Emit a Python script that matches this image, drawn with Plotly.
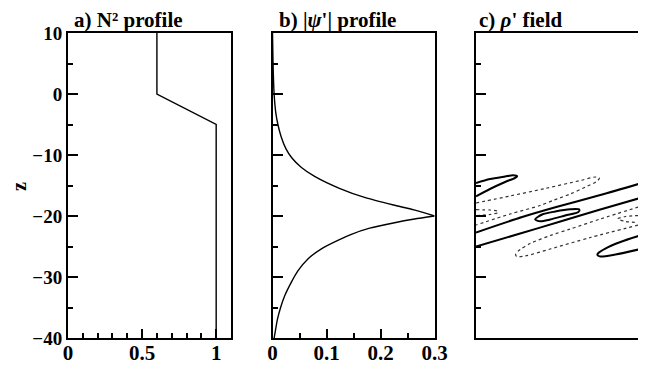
import plotly.graph_objects as go

# ---------------- data ----------------
# a) N^2 profile
n2_z = [10, 0, -5, -40]
n2_val = [0.6, 0.6, 1.0, 1.0]

# b) |psi'| profile (upper and lower branch, meeting at the peak)
psi_up_z = [10, 5, 0, -3, -5, -7, -9, -10.5, -12, -13.5, -15.5, -17, -18.2, -19, -20]
psi_up_v = [0.000, 0.001, 0.003, 0.006, 0.010, 0.016, 0.025, 0.036, 0.053, 0.078, 0.125, 0.172, 0.224, 0.262, 0.300]
psi_lo_z = [-20, -20.5, -21.1, -22, -23, -24, -25.3, -27, -29, -31, -33, -35, -37, -39, -40]
psi_lo_v = [0.300, 0.263, 0.226, 0.180, 0.146, 0.121, 0.092, 0.066, 0.047, 0.034, 0.023, 0.015, 0.009, 0.005, 0.003]

# c) rho' field contours (x normalised 0..1 across the panel, z)
pos1_x = [0, 0.086, 0.179, 0.228, 0.253, 0.241, 0.179, 0.086, 0]
pos1_z = [-14.6, -13.93, -13.52, -13.33, -13.48, -13.74, -14.43, -15.57, -16.77]
neg1_x = [0, 0.210, 0.426, 0.642, 0.735, 0.759, 0.747, 0.673, 0.580, 0.481, 0.395, 0.210, 0]
neg1_z = [-17.87, -16.72, -15.49, -14.18, -13.61, -13.74, -14.26, -15.25, -16.39, -17.38, -18.28, -19.67, -21.48]
neg2_x = [0, 0.086, 0.130, 0.136, 0.086, 0]
neg2_z = [-18.97, -19.02, -19.18, -19.43, -19.75, -19.92]
pos2_x = [0, 0.284, 0.494, 0.765, 1]
pos2_z = [-22.70, -20.16, -18.52, -16.56, -14.75]
pos3_x = [0.364, 0.407, 0.488, 0.580, 0.636, 0.630, 0.549, 0.457, 0.395, 0.364]
pos3_z = [-20.57, -19.75, -19.26, -18.90, -18.93, -19.34, -19.92, -20.57, -20.87, -20.57]
pos4_x = [0, 0.272, 0.519, 0.765, 1]
pos4_z = [-25.00, -22.87, -20.90, -18.93, -17.13]
neg3_x = [1, 0.920, 0.873, 0.920, 1]
neg3_z = [-19.92, -20.08, -20.46, -20.90, -21.07]
neg4_x = [1, 0.765, 0.580, 0.457, 0.333, 0.272, 0.244, 0.250, 0.302, 0.457, 0.704, 1]
neg4_z = [-18.52, -20.49, -22.13, -23.20, -24.51, -25.49, -26.23, -26.64, -26.56, -25.41, -23.52, -21.48]
pos5_x = [1, 0.889, 0.796, 0.753, 0.747, 0.765, 0.858, 1]
pos5_z = [-23.28, -24.26, -25.33, -26.07, -26.39, -26.64, -26.31, -25.49]

solid_contours = [(pos1_x, pos1_z), (pos2_x, pos2_z), (pos3_x, pos3_z), (pos4_x, pos4_z), (pos5_x, pos5_z)]
dotted_contours = [(neg1_x, neg1_z), (neg2_x, neg2_z), (neg3_x, neg3_z), (neg4_x, neg4_z)]

titles = ["a) N² profile", "b) |<i>ψ</i>'| profile", "c) <i>ρ</i>' field"]

# ---------------- figure ----------------
# page body has an 8px margin, so the figure is sized to fit inside the window
OFF = 8
W, H = 646 - OFF, 367 - OFF
FONT = "Liberation Serif"


def px_x(X):
    return (X - OFF) / W


def px_y(Y):
    return 1 - (Y - OFF) / H


fig = go.Figure()

fig.add_trace(go.Scatter(x=n2_val, y=n2_z, mode="lines", line=dict(color="black", width=1.4),
                         xaxis="x", yaxis="y", showlegend=False))
fig.add_trace(go.Scatter(x=psi_up_v, y=psi_up_z, mode="lines", line=dict(color="black", width=1.4, shape="spline", smoothing=0.6),
                         xaxis="x2", yaxis="y2", showlegend=False))
fig.add_trace(go.Scatter(x=psi_lo_v, y=psi_lo_z, mode="lines", line=dict(color="black", width=1.4, shape="spline", smoothing=0.6),
                         xaxis="x2", yaxis="y2", showlegend=False))
for cx, cz in solid_contours:
    fig.add_trace(go.Scatter(x=cx, y=cz, mode="lines", line=dict(color="black", width=2, shape="spline", smoothing=0.8),
                             xaxis="x3", yaxis="y3", showlegend=False))
for cx, cz in dotted_contours:
    fig.add_trace(go.Scatter(x=cx, y=cz, mode="lines", line=dict(color="#333333", width=1.2, dash="dot", shape="spline", smoothing=0.8),
                             xaxis="x3", yaxis="y3", showlegend=False))

ydom = [px_y(338), px_y(33)]
xdoms = [[px_x(68), px_x(231)], [px_x(272.5), px_x(434.5)], [px_x(476), px_x(638.5)]]

common = dict(showline=True, linecolor="black", linewidth=2, mirror=True, showgrid=False, zeroline=False,
              ticks="inside", tickcolor="black", tickwidth=2, automargin=False)
xfont = dict(family=FONT, size=21, color="black", weight="bold")
yfont = dict(family=FONT, size=19, color="black", weight="bold")
minor_x = dict(ticks="inside", ticklen=5, tickwidth=1.5, tickcolor="black")

fig.update_layout(
    width=W, height=H, margin=dict(l=0, r=0, t=0, b=0, autoexpand=False),
    paper_bgcolor="white", plot_bgcolor="white",
    xaxis=dict(domain=xdoms[0], range=[0, 1.1], anchor="y", tickmode="linear", tick0=0, dtick=0.5, ticklen=9,
               tickfont=xfont, ticklabelstandoff=-5, minor=dict(dtick=0.1, tick0=0, **minor_x), **common),
    yaxis=dict(domain=ydom, range=[-40, 10], anchor="x", tickmode="linear", tick0=0, dtick=10, ticklen=10,
               tickfont=yfont, minor=dict(dtick=5, tick0=0, **minor_x), **common),
    xaxis2=dict(domain=xdoms[1], range=[0, 0.3], anchor="y2", tickmode="linear", tick0=0, dtick=0.1, ticklen=9,
                tickfont=xfont, ticklabelstandoff=-5, minor=dict(dtick=0.05, tick0=0, **minor_x), **common),
    yaxis2=dict(domain=ydom, range=[-40, 10], anchor="x2", tickmode="linear", tick0=0, dtick=10, ticklen=10,
                showticklabels=False, minor=dict(dtick=5, tick0=0, **minor_x), **common),
    xaxis3=dict(domain=xdoms[2], range=[0, 1], anchor="y3", showline=True, linecolor="black", linewidth=2, mirror=True,
                showgrid=False, zeroline=False, ticks="", showticklabels=False, automargin=False),
    yaxis3=dict(domain=ydom, range=[-40, 10], anchor="x3", tickmode="linear", tick0=0, dtick=10, ticklen=10,
                showticklabels=False, minor=dict(dtick=5, tick0=0, **minor_x), **common),
)

title_x = [72, 277, 477]
for t, xp in zip(titles, title_x):
    fig.add_annotation(text=t, x=px_x(xp), y=px_y(20), xref="paper", yref="paper", xanchor="left", yanchor="middle",
                       showarrow=False, font=dict(family=FONT, size=21, color="black", weight="bold"))

fig.add_annotation(text="z", x=px_x(19), y=px_y(187), xref="paper", yref="paper", textangle=-90,
                   xanchor="center", yanchor="middle", showarrow=False,
                   font=dict(family=FONT, size=20, color="black", weight="bold"))

fig.write_html("out.html")
